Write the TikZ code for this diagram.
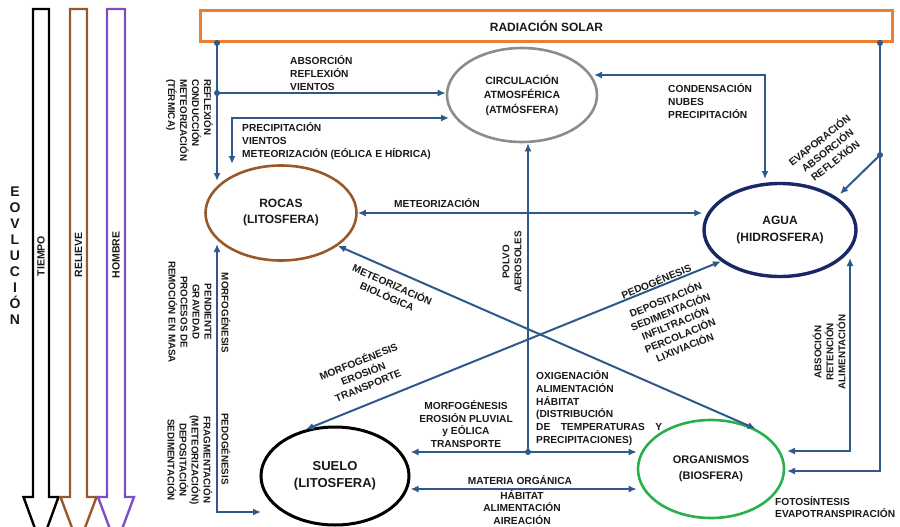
\documentclass[tikz,border=0pt]{standalone}
\usepackage{fontspec}
\setmainfont{Liberation Sans}
\usetikzlibrary{arrows.meta,shapes.geometric}
\definecolor{lblue}{RGB}{46,89,138}
\definecolor{txt}{RGB}{25,25,25}
\definecolor{orangeR}{RGB}{237,125,49}
\definecolor{brownR}{RGB}{153,88,40}
\definecolor{purpR}{RGB}{128,78,196}
\definecolor{navyR}{RGB}{24,40,102}
\definecolor{grayR}{RGB}{140,140,140}
\definecolor{greenR}{RGB}{40,176,76}
\begin{document}
\begin{tikzpicture}[x=1pt,y=-1pt,
  ln/.style={draw=lblue,line width=2pt},
  arr/.style={ln,-{Latex[length=8pt,width=7pt]}},
  arrboth/.style={ln,{Latex[length=8pt,width=7pt]}-{Latex[length=8pt,width=7pt]}},
  lbl/.style={font=\fontsize{10.2}{12.8}\selectfont\bfseries, text=txt, inner sep=0pt},
  lbls/.style={font=\fontsize{9.8}{12}\selectfont\bfseries, text=txt, inner sep=0pt},
  sph/.style={ellipse, inner sep=0pt, align=center, text=txt, line width=2.6pt},
  dotb/.style={circle, fill=lblue, inner sep=0pt, minimum size=6pt},
  hollow/.style={line width=2.4pt, fill=white},
  side/.style={font=\fontsize{10.5}{12}\selectfont\bfseries, text=txt, inner sep=0pt, rotate=90}
]
\useasboundingbox (0,0) rectangle (900,527);

% --- left evolution arrows
\begin{scope}
\clip (0,0) rectangle (900,527);
\draw[hollow, draw=black] (33,9) -- (49,9) -- (49,497) -- (58.5,497) -- (41,545) -- (23.5,497) -- (33,497) -- cycle;
\draw[hollow, draw=brownR] (70,9) -- (87,9) -- (87,497) -- (96.5,497) -- (78.5,545) -- (60.5,497) -- (70,497) -- cycle;
\draw[hollow, draw=purpR] (107,9) -- (125,9) -- (125,497) -- (134,497) -- (116,545) -- (98,497) -- (107,497) -- cycle;
\end{scope}
\node[side] (tiempo) at (41,256) {TIEMPO};
\node[side] (relieve) at (78.5,255) {RELIEVE};
\node[side] (hombre) at (116,255) {HOMBRE};
\node[font=\fontsize{14}{16}\selectfont\bfseries, text=txt, align=center, inner sep=0pt] (evol) at (15,256) {E\\O\\V\\L\\U\\C\\I\\Ó\\N};

% --- main nodes
\node[draw=orangeR, line width=2.5pt, minimum width=692pt, minimum height=31pt, inner sep=0pt,
      font=\fontsize{12}{14}\selectfont\bfseries, text=txt] (rad) at (546.5,26) {RADIACIÓN SOLAR};
\node[sph, draw=grayR, minimum width=150pt, minimum height=94pt,
      font=\fontsize{10.5}{14.5}\selectfont\bfseries] (circ) at (522,95) {CIRCULACIÓN\\ATMOSFÉRICA\\(ATMÓSFERA)};
\node[sph, draw=brownR, minimum width=151pt, minimum height=95pt,
      font=\fontsize{12}{16}\selectfont\bfseries] (rocas) at (281,213) {ROCAS\\(LITOSFERA)};
\node[sph, draw=navyR, line width=3.4pt, minimum width=152pt, minimum height=93pt,
      font=\fontsize{12}{17}\selectfont\bfseries] (agua) at (780,230) {AGUA\\(HIDROSFERA)};
\node[sph, draw=black, line width=3pt, minimum width=148pt, minimum height=98pt,
      font=\fontsize{13}{16.5}\selectfont\bfseries] (suelo) at (335,476) {SUELO\\(LITOSFERA)};
\node[sph, draw=greenR, minimum width=146pt, minimum height=98pt,
      font=\fontsize{11}{16}\selectfont\bfseries] (org) at (711,469) {ORGANISMOS\\(BIOSFERA)};

% --- junction dots and free ends
\node[dotb] (dL1) at (217,43) {};
\node[dotb] (dL2) at (217,93) {};
\node[dotb] (dR1) at (880,43) {};
\node[dotb] (dR2) at (880,155) {};
\node[dotb] (dC) at (528,452) {};
\coordinate (rTop) at (217,181);
\coordinate (rTop2) at (232,164);
\coordinate (cL2) at (449,118);
\coordinate (aTop) at (765,179);
\coordinate (cR) at (594,75);
\coordinate (rBot) at (217,244);
\coordinate (sL) at (261,512);
\coordinate (oR1) at (787,451);
\coordinate (oR2) at (787,471);
\coordinate (aR) at (840,194);
\coordinate (aB) at (850,258);
\coordinate (hb) at (0,489);

% --- connectors
\draw[arr] (dL1.center) -- (rTop);
\draw[arr] (dL2.center) -- (dL2 -| circ.west);
\draw[arrboth] (rTop2) |- (cL2);
\draw[arrboth] (aTop) |- (cR);
\draw[arrboth] (rocas.east) -- (rocas.east -| agua.west);
\draw[arr] (dC.center) -- (dC |- circ.south);
\draw[arrboth] (dC -| suelo.east) -- (dC -| org.west);
\draw[arrboth] (hb -| suelo.east) -- (hb -| org.west);
\draw[arrboth] (rocas.-30) -- (org.42);
\draw[arrboth] (suelo.122) -- (agua.208);
\draw[arrboth] (rBot) |- (sL);
\draw[arr] (dR1.center) |- (oR2);
\draw[arr] (dR2.center) -- (aR);
\draw[arrboth] (oR1) -| (aB);

% --- labels
\node[lbl, align=left, anchor=west] (l1) at (290,73) {ABSORCIÓN\\REFLEXIÓN\\VIENTOS};
\node[lbl, align=left, anchor=west] (l2) at (242,141) {PRECIPITACIÓN\\VIENTOS\\METEORIZACIÓN (EÓLICA E HÍDRICA)};
\node[lbls, rotate=-90, align=left, anchor=north west] (l3) at (213,79) {REFLEXIÓN\\CONDUCCIÓN\\METEORIZACIÓN\\(TÉRMICA)};
\node[lbl, align=left, anchor=west] (l4) at (668,101) {CONDENSACIÓN\\NUBES\\PRECIPITACIÓN};
\node[lbl, align=center, rotate=38] (l5) at (827,150) {EVAPORACIÓN\\ABSORCIÓN\\REFLEXIÓN};
\node[lbl] (l6) at (437,203) {METEORIZACIÓN};
\node[lbls, align=center, rotate=90] (l7) at (512,262) {POLVO\\AEROSOLES};
\node[lbl, align=center, rotate=-24] (l8) at (390,290) {METEORIZACIÓN\\BIOLÓGICA};
\node[lbl, rotate=22] (l9) at (656,281) {PEDOGÉNESIS};
\node[lbl, align=center, rotate=22] (l10) at (675,323) {DEPOSITACIÓN\\SEDIMENTACIÓN\\INFILTRACIÓN\\PERCOLACIÓN\\LIXIVIACIÓN};
\node[lbl, align=center, rotate=22] (l11) at (363,373) {MORFOGÉNESIS\\EROSIÓN\\TRANSPORTE};
\node[lbls, align=center, rotate=90] (l12) at (829,352) {ABSOCIÓN\\RETENCIÓN\\ALIMENTACIÓN};
\node[lbls, rotate=-90] (l13) at (226,313) {MORFOGÉNESIS};
\node[lbls, align=center, rotate=-90] (l14) at (190,312) {PENDIENTE\\GRAVEDAD\\PROCESOS DE\\REMOCIÓN EN MASA};
\node[lbls, rotate=-90] (l15) at (226,449) {PEDOGÉNESIS};
\node[lbls, align=center, rotate=-90] (l16) at (190,460) {FRAGMENTACIÓN\\(METEORIZACIÓN)\\DEPOSITACIÓN\\SEDIMENTACIÓN};
\node[lbl, align=center] (l17) at (466,424) {MORFOGÉNESIS\\EROSIÓN PLUVIAL\\y EÓLICA\\TRANSPORTE};
\node[lbl, align=left, anchor=west] (l18) at (536,408) {OXIGENACIÓN\\ALIMENTACIÓN\\HÁBITAT\\(DISTRIBUCIÓN\\\hbox to 126pt{DE\hfil TEMPERATURAS\hfil Y}\\PRECIPITACIONES)};
\node[lbl] (l19) at (520,480) {MATERIA ORGÁNICA};
\node[lbl, align=center] (l20) at (522,507.5) {HÁBITAT\\ALIMENTACIÓN\\AIREACIÓN};
\node[lbl, align=left, anchor=west] (l21) at (775,507) {FOTOSÍNTESIS\\EVAPOTRANSPIRACIÓN};
\end{tikzpicture}
\end{document}
